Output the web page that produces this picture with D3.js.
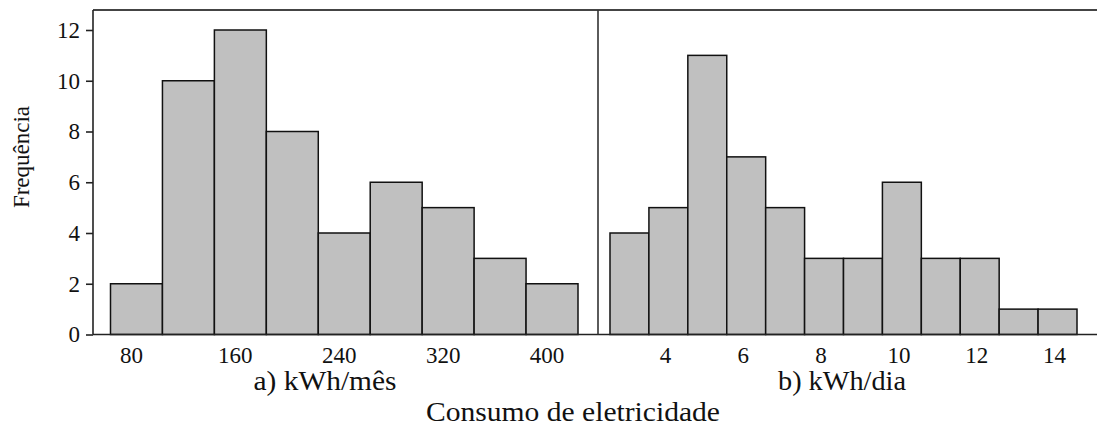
<!DOCTYPE html>
<html>
<head>
<meta charset="utf-8">
<script src="https://cdn.jsdelivr.net/npm/d3@7"></script>
<style>
  body { margin: 0; background: #fff; }
  text { font-family: "Liberation Serif", "Times New Roman", serif; fill: #111; }
</style>
</head>
<body>
<svg id="chart" width="1097" height="434"></svg>
<script>
// monthly consumption histogram (bin centres, width 40)
const mesCenters = [80, 120, 160, 200, 240, 280, 320, 360, 400]
const mesCounts = [2, 10, 12, 8, 4, 6, 5, 3, 2]
const mesTicks = [80, 160, 240, 320, 400]

// daily consumption histogram (bin centres, width 1)
const diaCenters = [3, 4, 5, 6, 7, 8, 9, 10, 11, 12, 13, 14]
const diaCounts = [4, 5, 11, 7, 5, 3, 3, 6, 3, 3, 1, 1]
const diaTicks = [4, 6, 8, 10, 12, 14]

const yTicks = [0, 2, 4, 6, 8, 10, 12]

const svg = d3.select('#chart')

const y = d3.scaleLinear().domain([0, 12]).range([334.5, 30])
const xMes = d3.scaleLinear().domain([60, 420]).range([110.5, 578])
const xDia = d3.scaleLinear().domain([2.5, 14.5]).range([610, 1077])

const frameLeft = 93, divider = 598, frameRight = 1097, frameTop = 10, frameBottom = y(0)

function drawBars(data, counts, x, w) {
    svg.append('g').selectAll('rect')
        .data(data)
        .join('rect')
        .attr('x', d => x(d - w / 2))
        .attr('width', d => x(d + w / 2) - x(d - w / 2))
        .attr('y', (d, i) => y(counts[i]))
        .attr('height', (d, i) => frameBottom - y(counts[i]))
        .attr('fill', '#c0c0c0')
        .attr('stroke', '#111')
        .attr('stroke-width', 1.5)
}
drawBars(mesCenters, mesCounts, xMes, 40)
drawBars(diaCenters, diaCounts, xDia, 1)

// frame lines
svg.append('line').attr('x1', frameLeft).attr('x2', frameRight).attr('y1', frameTop).attr('y2', frameTop)
    .attr('stroke', '#444').attr('stroke-width', 2)
svg.append('line').attr('x1', frameLeft).attr('x2', frameRight).attr('y1', frameBottom).attr('y2', frameBottom)
    .attr('stroke', '#222').attr('stroke-width', 1.6)
svg.append('line').attr('x1', divider).attr('x2', divider).attr('y1', frameTop).attr('y2', frameBottom)
    .attr('stroke', '#333').attr('stroke-width', 1.6)

// y axis
const yAxis = svg.append('g').attr('transform', `translate(${frameLeft},0)`)
    .call(d3.axisLeft(y).tickValues(yTicks).tickSize(7).tickPadding(6))
yAxis.select('.domain').remove()
yAxis.append('line').attr('x1', 0).attr('x2', 0).attr('y1', frameTop).attr('y2', frameBottom)
    .attr('stroke', '#222').attr('stroke-width', 1.6)
yAxis.selectAll('.tick line').attr('stroke', '#222').attr('stroke-width', 1.6)
yAxis.selectAll('.tick text').style('font-size', '23px').attr('font-family', null)

// x tick labels (no tick marks)
function xLabels(ticks, x, dx) {
    svg.append('g').selectAll('text')
        .data(ticks)
        .join('text')
        .attr('x', d => x(d) + dx)
        .attr('y', 363)
        .attr('text-anchor', 'middle')
        .style('font-size', '23px')
        .text(d => d)
}
xLabels(mesTicks, xMes, -5)
xLabels(diaTicks, xDia, -3)

function label(txt, x, yPos, len) {
    svg.append('text').attr('x', x).attr('y', yPos).attr('text-anchor', 'middle')
        .style('font-size', '27px')
        .attr('textLength', len).attr('lengthAdjust', 'spacingAndGlyphs')
        .text(txt)
}
label('a) kWh/mês', 325, 390, 143)
label('b) kWh/dia', 842, 390, 128)
label('Consumo de eletricidade', 573, 421, 294)

svg.append('text')
    .attr('transform', 'translate(29,157) rotate(-90)')
    .attr('text-anchor', 'middle')
    .style('font-size', '23px')
    .text('Frequência')
</script>
</body>
</html>
